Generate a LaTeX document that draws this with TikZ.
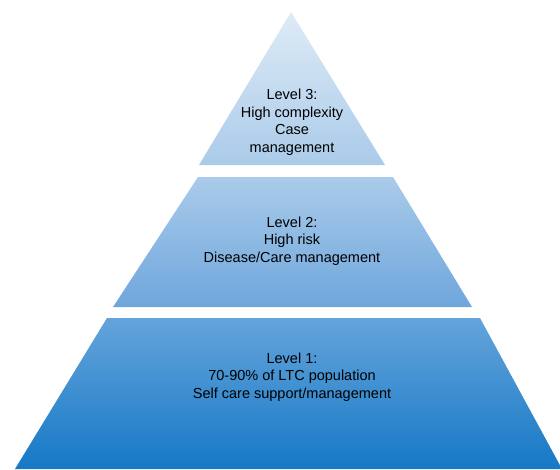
\documentclass[tikz,border=0pt]{standalone}
\usepackage{fontspec}
\setmainfont{Liberation Sans}
\begin{document}
\begin{tikzpicture}[x=1pt,y=-1pt,
  tiertext/.style={align=center,font=\fontsize{14.5}{17.5}\selectfont,text=black,inner sep=0pt}]
\useasboundingbox (0,0) rectangle (560,469);
% Level 3
\shade[top color={rgb,255:red,222;green,235;blue,247},bottom color={rgb,255:red,170;green,203;blue,233}]
  (291,12) -- (385,165) -- (199,165) -- cycle;
% Level 2
\shade[top color={rgb,255:red,170;green,203;blue,234},bottom color={rgb,255:red,110;green,166;blue,220}]
  (198,177) -- (393,177) -- (472,307) -- (113,307) -- cycle;
% Level 1
\shade[top color={rgb,255:red,100;green,164;blue,219},bottom color={rgb,255:red,22;green,120;blue,198}]
  (107,318) -- (480,318) -- (562,469) -- (15,469) -- cycle;
\node[tiertext] (l3) at (292,122) {Level 3:\\High complexity\\Case\\management};
\node[tiertext] (l2) at (292,241) {Level 2:\\High risk\\Disease/Care management};
\node[tiertext] (l1) at (292,377) {Level 1:\\70-90\% of LTC population\\Self care support/management};
\end{tikzpicture}
\end{document}
